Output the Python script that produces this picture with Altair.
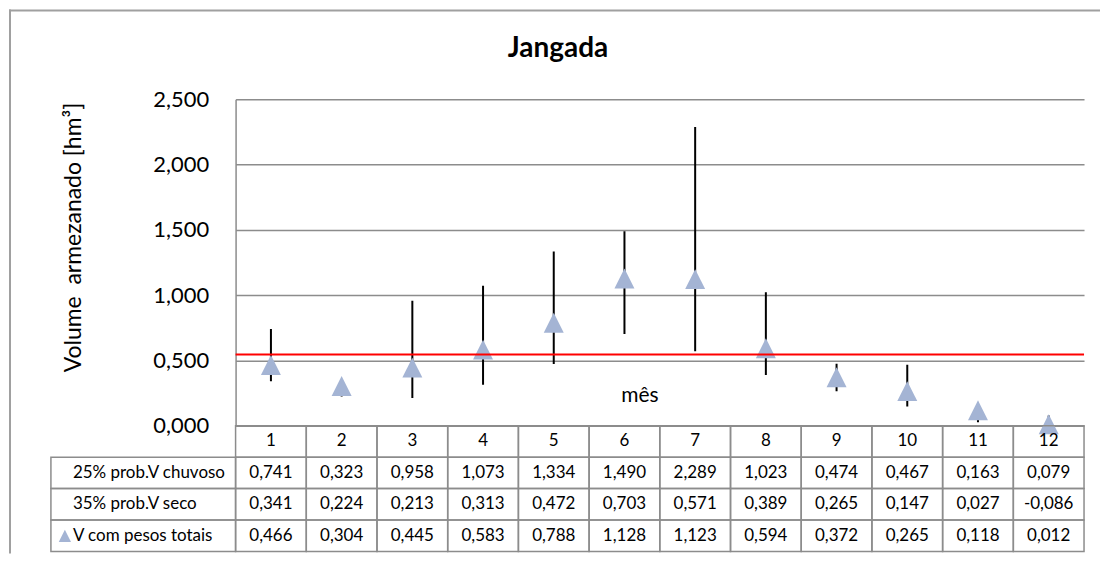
import altair as alt
import pandas as pd

# ---- data ----
months = list(range(1, 13))
chuvoso = [0.741, 0.323, 0.958, 1.073, 1.334, 1.490, 2.289, 1.023, 0.474, 0.467, 0.163, 0.079]
seco = [0.341, 0.224, 0.213, 0.313, 0.472, 0.703, 0.571, 0.389, 0.265, 0.147, 0.027, -0.086]
pesos = [0.466, 0.304, 0.445, 0.583, 0.788, 1.128, 1.123, 0.594, 0.372, 0.265, 0.118, 0.012]
ref_line = [0.546]
y_ticks = [0, 0.5, 1.0, 1.5, 2.0, 2.5]
row_labels = ["25% prob.V chuvoso", "35% prob.V seco", "V com pesos totais"]
header_key = "mes_header"

FONT = "Lato"
GRAY = "#8c8c8c"
TRI = "#a4b4d4"
TRI_PATH = "M0,-1L-1,1L1,1Z"


def fmt(v):
    return f"{v:.3f}".replace(".", ",")


df = pd.DataFrame({"mes": months, "chuvoso": chuvoso, "seco": seco, "pesos": pesos})

xs = alt.X("mes:O", scale=alt.Scale(domain=months, paddingInner=0, paddingOuter=0), axis=None)
ys = alt.Y(
    "v:Q",
    scale=alt.Scale(domain=[0, 2.5], nice=False, zero=False),
    axis=alt.Axis(
        values=y_ticks,
        labelExpr="replace(format(datum.value, '.3f'), '.', ',')",
        labelFontSize=22,
        labelFont=FONT,
        labelColor="black",
        labelPadding=27,
        ticks=False,
        domainColor=GRAY,
        domainWidth=1.5,
        gridColor=GRAY,
        gridWidth=1.5,
        title="Volume \u00a0armezanado [hm³]",
        titleFont=FONT,
        titleFontSize=23,
        titleFontWeight="normal",
        titleColor="black",
        titleX=-162,
        titleY=138,
        titleAngle=270,
        titleAlign="center",
        titleBaseline="middle",
    ),
)

base = alt.Chart(df)

grid = alt.Chart(pd.DataFrame({"v": y_ticks})).mark_rule(opacity=0).encode(y=ys)

bars = base.mark_rule(color="black", strokeWidth=2, clip=True).encode(
    x=xs, y=alt.Y("seco:Q", scale=alt.Scale(domain=[0, 2.5], nice=False, zero=False)), y2="chuvoso:Q"
)

tris = base.mark_point(shape=TRI_PATH, filled=True, size=400, color=TRI, opacity=1).encode(
    x=xs, y=alt.Y("pesos:Q", scale=alt.Scale(domain=[0, 2.5], nice=False, zero=False))
)

red = alt.Chart(pd.DataFrame({"r": ref_line})).mark_rule(color="#ff0000", strokeWidth=2).encode(
    y=alt.Y("r:Q", scale=alt.Scale(domain=[0, 2.5], nice=False, zero=False))
)

title_txt = alt.Chart(pd.DataFrame({"t": ["Jangada"]})).mark_text(
    font=FONT, fontSize=28, fontWeight="bold", color="black", align="center", baseline="middle"
).encode(text="t:N", x=alt.value(323), y=alt.value(-50))

mes_txt = alt.Chart(pd.DataFrame({"t": ["mês"]})).mark_text(
    font=FONT, fontSize=21, color="black", align="center", baseline="middle"
).encode(text="t:N", x=alt.value(405), y=alt.value(-30 + 327))

border_top = alt.Chart(pd.DataFrame({"t": [0]})).mark_rule(color="#a0a0a0", strokeWidth=2).encode(
    x=alt.value(-227), x2=alt.value(866), y=alt.value(-89)
)
border_left = alt.Chart(pd.DataFrame({"t": [0]})).mark_rule(color="#a0a0a0", strokeWidth=2).encode(
    x=alt.value(-226), y=alt.value(-90), y2=alt.value(455)
)

top = alt.layer(grid, bars, tris, red, mes_txt, title_txt, border_top, border_left).properties(
    width=850, height=327
)

# ---- data table below the plot ----
row_order = [header_key] + row_labels
cells = []
for i, m in enumerate(months):
    cells.append({"mes": m, "row": header_key, "txt": str(m)})
    cells.append({"mes": m, "row": row_labels[0], "txt": fmt(chuvoso[i])})
    cells.append({"mes": m, "row": row_labels[1], "txt": fmt(seco[i])})
    cells.append({"mes": m, "row": row_labels[2], "txt": fmt(pesos[i])})
cells_df = pd.DataFrame(cells)
labels_df = pd.DataFrame({"row": row_labels, "lab": row_labels})
sym_df = pd.DataFrame({"row": [row_labels[2]]})

tx = alt.X("mes:O", scale=alt.Scale(domain=months, paddingInner=0, paddingOuter=0), axis=None)
ty = alt.Y("row:N", scale=alt.Scale(domain=row_order, paddingInner=0, paddingOuter=0), axis=None, sort=row_order)

cell_rect = alt.Chart(cells_df).mark_rect(
    fill="white", fillOpacity=0, stroke=GRAY, strokeWidth=1.5
).encode(x=tx, y=ty)
cell_text = alt.Chart(cells_df).mark_text(font=FONT, fontSize=17, color="black", baseline="middle").encode(
    x=tx, y=ty, text="txt:N"
)
lab_rect = alt.Chart(labels_df).mark_rect(
    fill="white", fillOpacity=0, stroke=GRAY, strokeWidth=1.5
).encode(x=alt.value(-185), x2=alt.value(0), y=ty)
lab_text = alt.Chart(labels_df).mark_text(
    font=FONT, fontSize=17, color="black", align="left", baseline="middle"
).encode(x=alt.value(-163), y=ty, text="lab:N")
lab_sym = alt.Chart(sym_df).mark_point(shape=TRI_PATH, filled=True, size=150, color=TRI, opacity=1).encode(
    x=alt.value(-171), y=ty
)

table = alt.layer(cell_rect, cell_text, lab_rect, lab_text, lab_sym).properties(width=850, height=126)

chart = (
    alt.vconcat(top, table, spacing=0, bounds="flush")
    .properties(padding=0, background="white")
    .configure_view(stroke=None)
)

chart.save("out.html", embed_options={"renderer": "svg", "actions": False})
